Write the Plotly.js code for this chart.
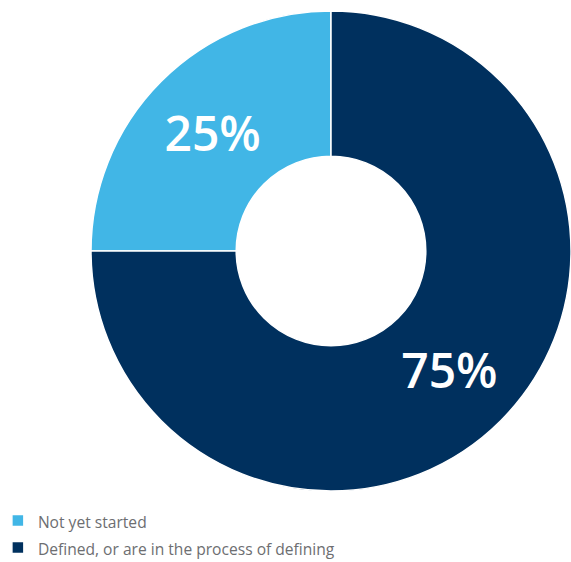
<!DOCTYPE html>
<html>
<head>
<meta charset="utf-8">
<script src="https://cdn.plot.ly/plotly-3.0.1.min.js"></script>
<style>html,body{margin:0;padding:0;background:#fff;}#chart{width:571px;height:562px;}</style>
</head>
<body>
<div id="chart"></div>
<script>
const categories = ["Not yet started", "Defined, or are in the process of defining"];
const values = [25, 75];
const sliceColors = ["#41B6E6", "#00305E"];

const trace = {
  type: "pie",
  labels: categories.map(c => '<span style="font-size:15.6px">' + c + '</span>'),
  values: values,
  hole: 0.395,
  sort: false,
  direction: "clockwise",
  rotation: -90,
  marker: { colors: sliceColors, line: { color: "#ffffff", width: 1.5 } },
  texttemplate: "%{value}%",
  textposition: "inside",
  insidetextorientation: "horizontal",
  insidetextfont: { family: "Open Sans", size: 48, color: "#ffffff", weight: 600 },
  hoverinfo: "label+percent"
};

const layout = {
  width: 571,
  height: 562,
  margin: { l: 91, r: 0, t: 10, b: 70, autoexpand: false },
  paper_bgcolor: "#ffffff",
  plot_bgcolor: "#ffffff",
  showlegend: true,
  legend: {
    x: -0.194, xanchor: "left",
    y: -0.0205, yanchor: "top",
    orientation: "v",
    font: { family: "Open Sans", size: 18.5, color: "#6d6e71" },
    bgcolor: "rgba(0,0,0,0)"
  }
};

Plotly.newPlot("chart", [trace], layout, { displayModeBar: false, staticPlot: true });
</script>
</body>
</html>
